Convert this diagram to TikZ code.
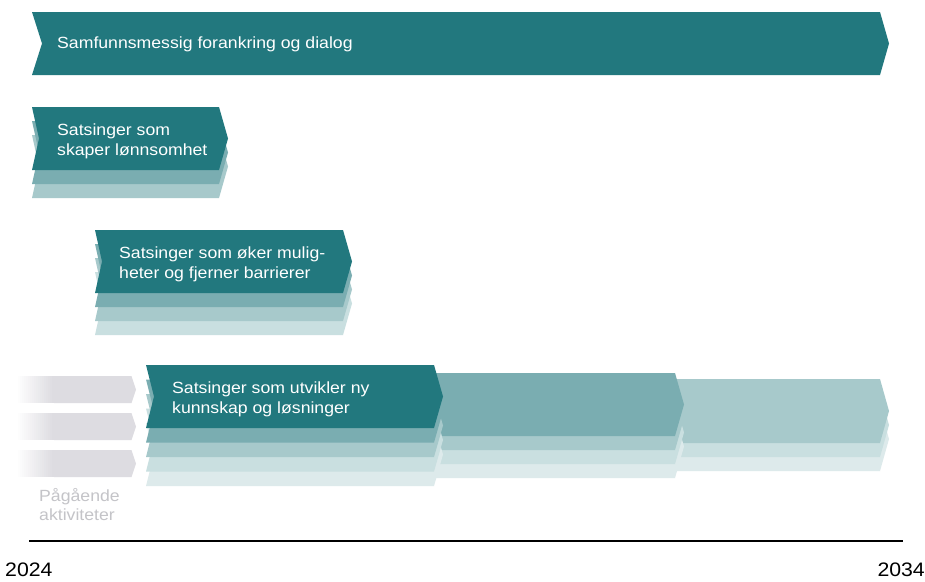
\documentclass[tikz,border=0pt]{standalone}
\usepackage{fontspec}
\setmainfont{Liberation Sans}[FakeStretch=1.09]
\definecolor{tdark}{HTML}{22787E}
\definecolor{tmid}{HTML}{7AADB1}
\definecolor{tlight}{HTML}{A7C9CB}
\definecolor{tlighter}{HTML}{C9DFE0}
\definecolor{tlightest}{HTML}{DDEAEB}
\definecolor{graybar}{HTML}{DDDCE1}
\definecolor{graytext}{HTML}{C4C4C8}
% #1 x-left, #2 x-tip, #3 y-top, #4 y-bottom, #5 notch depth, #6 fill colour
\newcommand\chevshape[6]{%
  \fill[#6] (#1,#3) -- ({#2-9},#3) -- (#2,{(#3+#4)/2}) -- ({#2-9},#4) -- (#1,#4)
    -- ({#1+#5},{(#3+#4)/2}) -- cycle;}
\newcommand\graybarshape[2]{%
  \fill[graybar] (54,#1) -- (131.5,#1) -- (136,{(#1+#2)/2}) -- (131.5,#2) -- (54,#2) -- cycle;
  \foreach \i in {0,...,17}{%
    \pgfmathsetmacro\pct{(\i+1)*100/18}%
    \fill[graybar!\pct!white] ({18+2*\i},#1) rectangle ({20.6+2*\i},#2);}}
\begin{document}
\begin{tikzpicture}[x=1pt,y=-1pt,
  boxtext/.style={text=white, font=\fontsize{16.2}{20}\selectfont, align=left,
    inner sep=0pt, anchor=base west},
  greytext/.style={text=graytext, font=\fontsize{16.2}{19}\selectfont, align=left,
    inner sep=0pt, anchor=base west},
  yeartext/.style={text=black, font=\fontsize{19.5}{24}\selectfont, inner sep=0pt}]
\useasboundingbox (0,0) rectangle (925,581);
\fill[white] (0,0) rectangle (925,581);

% top banner
\chevshape{32}{889}{12}{75}{10}{tdark}

% box 1
\chevshape{32}{228}{135}{198}{7}{tlight}
\chevshape{32}{228}{121}{184}{7}{tmid}
\chevshape{32}{228}{107}{170}{7}{tdark}

% box 2
\chevshape{95}{352}{272}{335}{7}{tlighter}
\chevshape{95}{352}{258}{321}{7}{tlight}
\chevshape{95}{352}{244}{307}{7}{tmid}
\chevshape{95}{352}{230}{293}{7}{tdark}

% box C (far right)
\chevshape{670}{889}{407}{471}{7}{tlightest}
\chevshape{670}{889}{393}{457}{7}{tlighter}
\chevshape{670}{889}{379}{443}{7}{tlight}

% box B (middle)
\chevshape{430}{684}{415}{478}{7}{tlightest}
\chevshape{430}{684}{401}{464}{7}{tlighter}
\chevshape{430}{684}{387}{450}{7}{tlight}
\chevshape{430}{684}{373}{436}{7}{tmid}

% box 3
\chevshape{146}{443}{423}{486}{8}{tlightest}
\chevshape{146}{443}{408.5}{471.5}{8}{tlighter}
\chevshape{146}{443}{394}{457}{8}{tlight}
\chevshape{146}{443}{379.5}{442.5}{8}{tmid}
\chevshape{146}{443}{365}{428}{8}{tdark}

% ongoing activities (grey)
\graybarshape{376}{403}
\graybarshape{413}{440}
\graybarshape{450}{477}

% texts (base anchor = baseline of the last line)
\node[boxtext] (t0) at (57,48.5) {Samfunnsmessig forankring og dialog};
\node[boxtext] (t1) at (57,155.5) {Satsinger som\\skaper lønnsomhet};
\node[boxtext] (t2) at (119,278.5) {Satsinger som øker mulig-\\heter og fjerner barrierer};
\node[boxtext] (t3) at (172,413.5) {Satsinger som utvikler ny\\kunnskap og løsninger};
\node[greytext] (tg) at (39,520) {Pågående\\aktiviteter};

% time axis
\coordinate (axL) at (29,541);
\coordinate (axR) at (903,541);
\draw[line width=2.6pt, black] (axL) -- (axR);
\node[yeartext, anchor=base west] (y0) at (5,576) {2024};
\node[yeartext, anchor=base east] (y1) at (925,576) {2034};
\end{tikzpicture}
\end{document}
